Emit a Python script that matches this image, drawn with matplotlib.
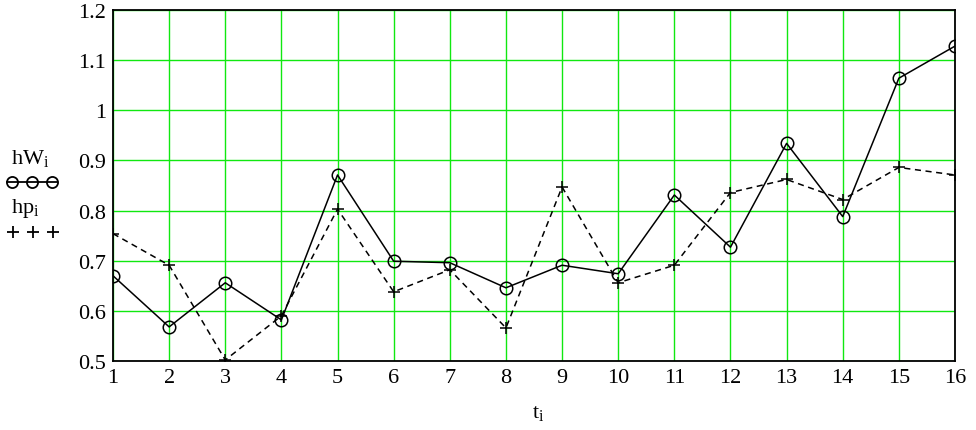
import matplotlib
matplotlib.use("Agg")
import matplotlib.pyplot as plt
from matplotlib.lines import Line2D

t = list(range(1, 17))
hW = [0.670, 0.568, 0.656, 0.582, 0.871, 0.699, 0.696, 0.646,
      0.691, 0.674, 0.831, 0.727, 0.934, 0.788, 1.064, 1.128]
hp = [0.754, 0.691, 0.502, 0.590, 0.803, 0.638, 0.682, 0.566,
      0.847, 0.656, 0.691, 0.836, 0.862, 0.822, 0.886, 0.871]
yticks = [0.5, 0.6, 0.7, 0.8, 0.9, 1.0, 1.1, 1.2]
ylabels = ["0.5", "0.6", "0.7", "0.8", "0.9", "1", "1.1", "1.2"]

plt.rcParams['font.family'] = ['Liberation Serif', 'DejaVu Serif']
fig = plt.figure(figsize=(9.76, 4.31), dpi=100)
ax = fig.add_axes([113/976, 1-362/431, (955-113)/976, (362-11)/431])

ax.plot(t, hW, color='black', lw=1.1, marker='o', markersize=9,
        markerfacecolor='none', markeredgecolor='black', markeredgewidth=1.1, zorder=3)
ax.plot(t, hp, color='black', lw=1.1, ls=(0, (4, 3)), marker='+', markersize=9,
        markeredgewidth=1.1, zorder=3)

ax.set_xlim(1, 16)
ax.set_ylim(0.5, 1.2)
ax.set_xticks(t)
ax.set_xticklabels([str(v) for v in t])
ax.set_yticks(yticks)
ax.set_yticklabels(ylabels)
ax.tick_params(length=0, labelsize=16, pad=5)
ax.grid(True, color='#10e810', lw=1.0)
ax.set_axisbelow(True)
for s in ax.spines.values():
    s.set_linewidth(1.3)
    s.set_color('black')

fig.text(538/976, 1-414/431, r"t$_{\mathregular{i}}$", ha='center', va='center', fontsize=16)

# legend at left
fig.text(11/976, 1-159/431, r"hW$_{\mathregular{i}}$", ha='left', va='center', fontsize=16)
fig.text(11/976, 1-209/431, r"hp$_{\mathregular{i}}$", ha='left', va='center', fontsize=16)
fig.add_artist(Line2D([7/976, 12/976, 32/976, 52/976, 57/976],
                      [1-183/431]*5, transform=fig.transFigure, color='black', lw=1.3,
                      marker='o', markevery=[1, 2, 3], markersize=8,
                      markerfacecolor='none', markeredgewidth=1.3))
fig.add_artist(Line2D([13/976, 33/976, 53/976], [1-233/431]*3, transform=fig.transFigure,
                      ls='none', color='black', marker='+', markersize=8.5, markeredgewidth=1.3))

fig.savefig("out.png", dpi=100)
